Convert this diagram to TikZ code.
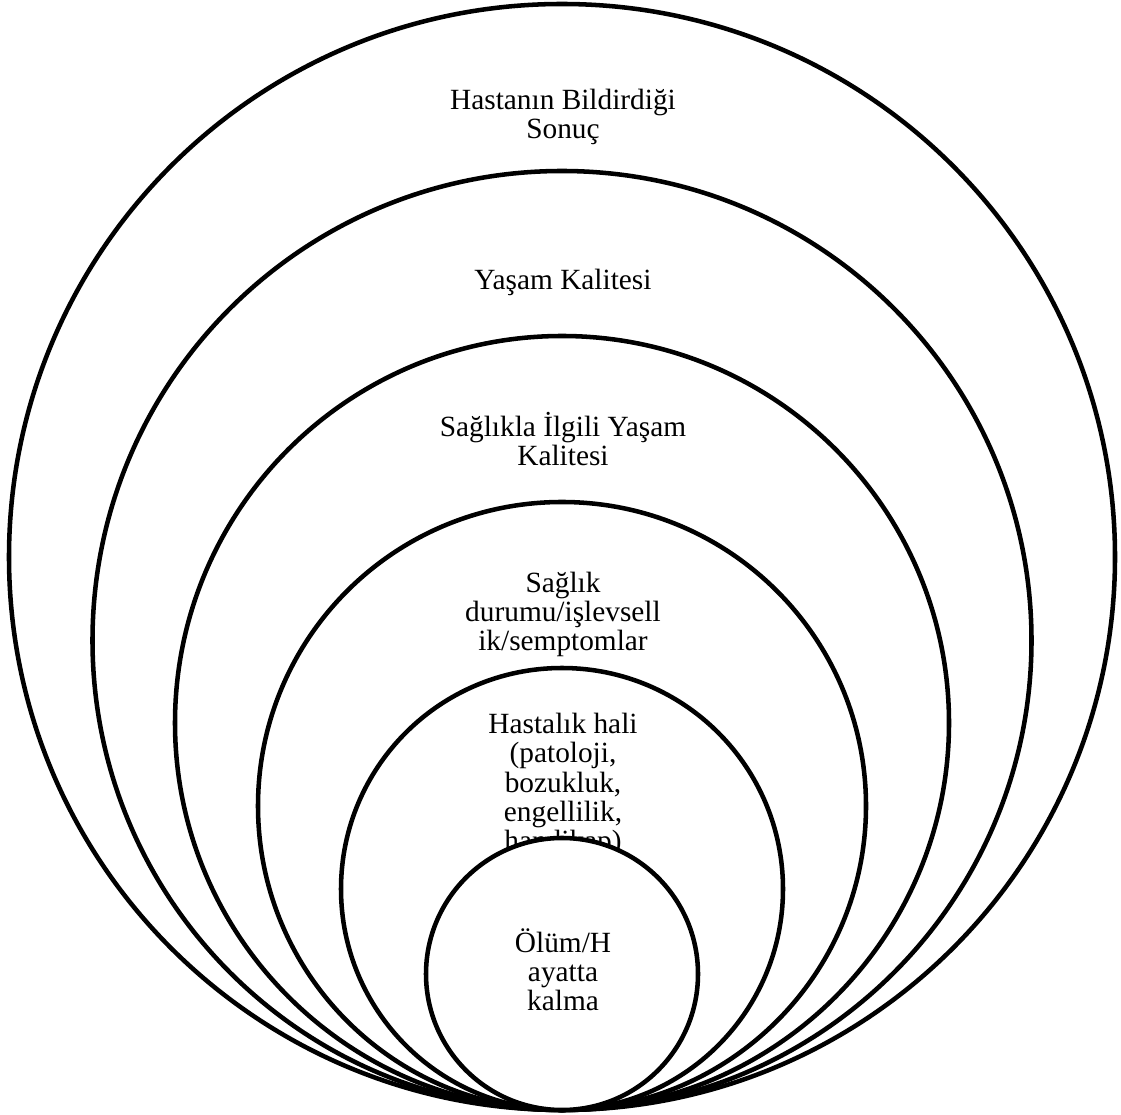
\documentclass[tikz,border=0pt]{standalone}
\usepackage{fontspec}
\setmainfont{Liberation Serif}
\newfontfamily\ringfont{Liberation Serif}
\usetikzlibrary{positioning}

\begin{document}
\begin{tikzpicture}[
  x=0.75pt, y=0.75pt,
  ring/.style={circle, draw=black, line width=3.4pt, fill=white, inner sep=0pt},
  lbl/.style={align=center, anchor=base, font=\ringfont\fontsize{22}{22.1}\selectfont, inner sep=0pt},
]
\useasboundingbox (0,0) rectangle (1121,1114);

% === NESTED RINGS (all touching at the bottom) ===
\node[ring, minimum size=829.5pt] (outcome) at (562,557) {};
\node[lbl] (outcomeT) at (563,975.5) {Hastanın Bildirdiği\\Sonuç};

\node[ring, minimum size=704.25pt] (qol) at (562,473.5) {};
\node[lbl] (qolT) at (563,824) {Yaşam Kalitesi};

\node[ring, minimum size=580.5pt] (hrqol) at (562,391) {};
\node[lbl] (hrqolT) at (563,648.5) {Sağlıkla İlgili Yaşam\\Kalitesi};

\node[ring, minimum size=456pt] (health) at (562,308) {};
\node[lbl] (healthT) at (563,463) {Sağlık\\durumu/işlevsell\\ik/semptomlar};

\node[ring, minimum size=331.5pt] (disease) at (562,225) {};
\node[lbl] (diseaseT) at (563,263) {Hastalık hali\\(patoloji,\\bozukluk,\\engellilik,\\handikap)};

\node[ring, minimum size=204pt] (survival) at (562,140) {};
\node[lbl] (survivalT) at (563,103) {Ölüm/H\\ayatta\\kalma};
\end{tikzpicture}
\end{document}
